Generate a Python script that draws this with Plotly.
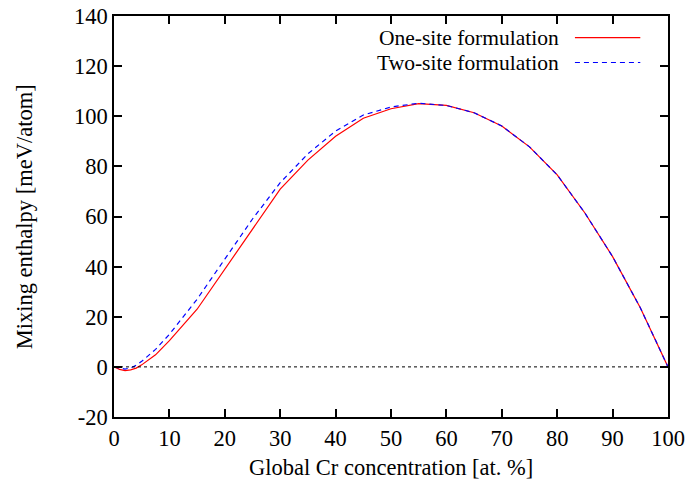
import plotly.graph_objects as go

# Data
x_one = [0, 1, 2, 3, 4, 5, 7.5, 10, 15, 20, 25, 30, 35, 40, 45, 50, 55, 60, 65, 70, 75, 80, 85, 90, 95, 100]
y_one = [0, -1.0, -1.5, -1.2, -0.5, 0.8, 4.8, 10.5, 23, 39, 55, 70.9, 82.5, 92, 99.2, 103, 105, 104.3, 101.4, 96.1, 87.8, 76.6, 61.4, 44.0, 23.6, 0]

x_two = [0, 1, 2, 3, 4, 5, 7.5, 10, 15, 20, 25, 30, 35, 40, 45, 50, 55, 60, 65, 70, 75, 80, 85, 90, 95, 100]
y_two = [0, -0.6, -0.9, -0.4, 0.6, 2.2, 7.0, 13, 27, 43, 59, 73.5, 85, 94.1, 100.5, 103.7, 105.2, 104.3, 101.4, 96.1, 87.8, 76.6, 61.4, 44.0, 23.6, 0]

names = ["One-site formulation", "Two-site formulation"]
x_ticks = [0, 10, 20, 30, 40, 50, 60, 70, 80, 90, 100]
y_ticks = [-20, 0, 20, 40, 60, 80, 100, 120, 140]

FONT = "Liberation Serif"
FS = 22.5
FS_LEG = 21.5

fig = go.Figure()
fig.add_trace(go.Scatter(x=x_one, y=y_one, mode="lines", name=names[0],
                         line=dict(color="#ff0000", width=1.2), showlegend=False))
fig.add_trace(go.Scatter(x=x_two, y=y_two, mode="lines", name=names[1],
                         line=dict(color="#0000ff", width=1.2, dash="5px,4px"), showlegend=False))

# zero line
fig.add_shape(type="line", x0=0, x1=100, y0=0, y1=0, xref="x", yref="y",
              line=dict(color="black", width=1, dash="dot"))

# gnuplot-style legend (text right-aligned, sample to the right)
leg_y = [0.946, 0.884]
colors = ["#ff0000", "#0000ff"]
dashes = ["solid", "5px,4px"]
for i in range(2):
    fig.add_annotation(x=0.805, y=leg_y[i], xref="paper", yref="paper", text=names[i],
                       showarrow=False, xanchor="right", yanchor="middle", borderpad=0,
                       font=dict(family=FONT, size=FS_LEG, color="black"))
    fig.add_shape(type="line", x0=0.832, x1=0.95, y0=leg_y[i], y1=leg_y[i],
                  xref="paper", yref="paper",
                  line=dict(color=colors[i], width=1.2, dash=dashes[i]))

# axis titles
fig.add_annotation(x=0.5, y=-0.125, xref="paper", yref="paper",
                   text="Global Cr concentration [at. %]", showarrow=False,
                   xanchor="center", yanchor="middle",
                   font=dict(family=FONT, size=FS, color="black"))
fig.add_annotation(x=-0.161, y=0.5, xref="paper", yref="paper",
                   text="Mixing enthalpy [meV/atom]", showarrow=False, textangle=-90,
                   xanchor="center", yanchor="middle",
                   font=dict(family=FONT, size=FS, color="black"))

axis_common = dict(showline=True, linecolor="black", linewidth=1.5, mirror="ticks",
                   ticks="inside", ticklen=8, tickwidth=1.5, tickcolor="black",
                   showgrid=False, zeroline=False, automargin=False,
                   tickfont=dict(family=FONT, size=FS, color="black"))

fig.update_xaxes(range=[0, 100], tickvals=x_ticks, ticktext=[str(v) for v in x_ticks],
                 **axis_common)
fig.update_yaxes(range=[-20, 140], tickvals=y_ticks, ticktext=[str(v) for v in y_ticks],
                 **axis_common)

fig.update_layout(width=690, height=487, margin=dict(l=114, r=22, t=16, b=70),
                  plot_bgcolor="white", paper_bgcolor="white",
                  font=dict(family=FONT, color="black"))

fig.write_html("out.html")
